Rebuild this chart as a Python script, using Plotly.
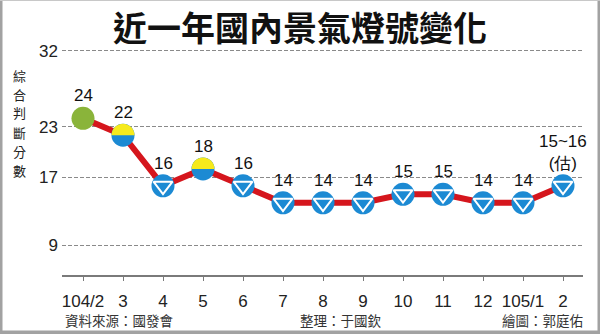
import plotly.graph_objects as go

# ---- data ----
months = ["104/2", "3", "4", "5", "6", "7", "8", "9", "10", "11", "12", "105/1", "2"]
scores = [24, 22, 16, 18, 16, 14, 14, 14, 15, 15, 14, 14, 16]
labels = ["24", "22", "16", "18", "16", "14", "14", "14", "15", "15", "14", "14", "15~16<br>(估)"]
signals = ["green", "yellow-blue", "blue", "yellow-blue", "blue", "blue", "blue",
           "blue", "blue", "blue", "blue", "blue", "blue"]
y_ticks = [9, 17, 23, 32]
title = "近一年國內景氣燈號變化"
y_title = "綜合判斷分數"
footer_left = "資料來源：國發會"
footer_mid = "整理：于國欽"
footer_right = "繪圖：郭庭佑"

# ---- styling ----
W, H = 600, 334
ML, MR, MT, MB = 62, 17, 45, 59
PW, PH = W - ML - MR, H - MT - MB
RED = "#d5161d"
BLUE = "#1c8ad3"
GREEN = "#8ab43a"
YELLOW = "#f6ea1c"
NUM_FONT = "Liberation Sans, Arial, sans-serif"
CJK_FONT = "Noto Sans CJK TC, sans-serif"


def px_x(px):
    return (px - ML) / PW


def px_y(py):
    return (H - MB - py) / PH


x = list(range(len(months)))
fill = {"green": GREEN, "yellow-blue": BLUE, "blue": BLUE}

fig = go.Figure()
fig.add_trace(go.Scatter(x=x, y=scores, mode="lines",
                         line=dict(color=RED, width=6), hoverinfo="skip"))
fig.add_trace(go.Scatter(x=x, y=scores, mode="markers",
                         marker=dict(size=23, color=[fill[s] for s in signals],
                                     line=dict(width=0)), hoverinfo="skip"))
bx = [xi for xi, s in zip(x, signals) if s == "blue"]
by = [v for v, s in zip(scores, signals) if s == "blue"]
fig.add_trace(go.Scatter(x=bx, y=by, mode="markers",
                         marker=dict(symbol="triangle-down-open", size=16.5,
                                     color="white", line=dict(color="white", width=2)),
                         hoverinfo="skip"))

# yellow top half for yellow-blue signals
R = 11.5
k = 0.5523 * R
half = (f"M {-R},0 C {-R},{k} {-k},{R} 0,{R} C {k},{R} {R},{k} {R},0 Z")
shapes = []
for xi, v, s in zip(x, scores, signals):
    if s == "yellow-blue":
        shapes.append(dict(type="path", xref="x", yref="y", xsizemode="pixel",
                           ysizemode="pixel", xanchor=xi, yanchor=v, path=half,
                           fillcolor=YELLOW, line=dict(width=0), layer="above"))

# frame
frame = "#a2a2a2"
shapes += [
    dict(type="rect", xref="paper", yref="paper", x0=px_x(0), x1=px_x(2.5),
         y0=px_y(H), y1=px_y(0), fillcolor=frame, line=dict(width=0)),
    dict(type="rect", xref="paper", yref="paper", x0=px_x(597.5), x1=px_x(W),
         y0=px_y(H), y1=px_y(0), fillcolor=frame, line=dict(width=0)),
    dict(type="rect", xref="paper", yref="paper", x0=px_x(0), x1=px_x(W),
         y0=px_y(H), y1=px_y(330.5), fillcolor=frame, line=dict(width=0)),
    dict(type="rect", xref="paper", yref="paper", x0=px_x(0), x1=px_x(W),
         y0=px_y(1), y1=px_y(0), fillcolor="#c8c8c8", line=dict(width=0)),
]

ann = []
for xi, v, t in zip(x, scores, labels):
    ann.append(dict(x=xi, y=v, xref="x", yref="y", text=t, showarrow=False,
                    yanchor="bottom", yshift=11,
                    font=dict(family=NUM_FONT, size=17, color="#111")))
# title
ann.append(dict(x=px_x(300), y=px_y(26), xref="paper", yref="paper", text=f"<b>{title}</b>",
                showarrow=False, xanchor="center", yanchor="middle",
                font=dict(family=CJK_FONT, size=34, color="#111")))
# vertical y title (one character per annotation, stacked)
n = len(y_title)
step = 19
for i, ch in enumerate(y_title):
    ann.append(dict(x=px_x(19), y=px_y(122.5 + (i - (n - 1) / 2) * step),
                    xref="paper", yref="paper", text=ch, showarrow=False,
                    xanchor="center", yanchor="middle", borderpad=0,
                    font=dict(family=CJK_FONT, size=13, color="#222")))
# footer
ann.append(dict(x=px_x(63), y=px_y(320), xref="paper", yref="paper", text=footer_left,
                showarrow=False, xanchor="left", yanchor="middle",
                font=dict(family=CJK_FONT, size=13.5, color="#333")))
ann.append(dict(x=px_x(298), y=px_y(320), xref="paper", yref="paper", text=footer_mid,
                showarrow=False, xanchor="left", yanchor="middle",
                font=dict(family=CJK_FONT, size=13.5, color="#333")))
ann.append(dict(x=px_x(585), y=px_y(320), xref="paper", yref="paper", text=footer_right,
                showarrow=False, xanchor="right", yanchor="middle",
                font=dict(family=CJK_FONT, size=13.5, color="#333")))

fig.update_layout(
    width=W, height=H,
    margin=dict(l=ML, r=MR, t=MT, b=MB, pad=0),
    paper_bgcolor="white", plot_bgcolor="white",
    showlegend=False,
    shapes=shapes, annotations=ann,
    xaxis=dict(range=[-0.525, 12.5], tickvals=x, ticktext=months,
               showgrid=False, zeroline=False, showline=True, linecolor="#7a7a7a",
               linewidth=2, ticks="outside", ticklen=4, tickwidth=1, tickcolor="#7a7a7a",
               ticklabelstandoff=6,
               tickfont=dict(family=NUM_FONT, size=17, color="#222"), fixedrange=True),
    yaxis=dict(range=[5.45, 32.67], tickvals=y_ticks, ticktext=[str(v) for v in y_ticks],
               showgrid=True, gridcolor="#8a8a8a", gridwidth=1, griddash="4px,2px",
               zeroline=False, showline=False, ticks="", ticklabelstandoff=3,
               tickfont=dict(family=NUM_FONT, size=17, color="#222"), fixedrange=True),
)

fig.write_html("out.html")
